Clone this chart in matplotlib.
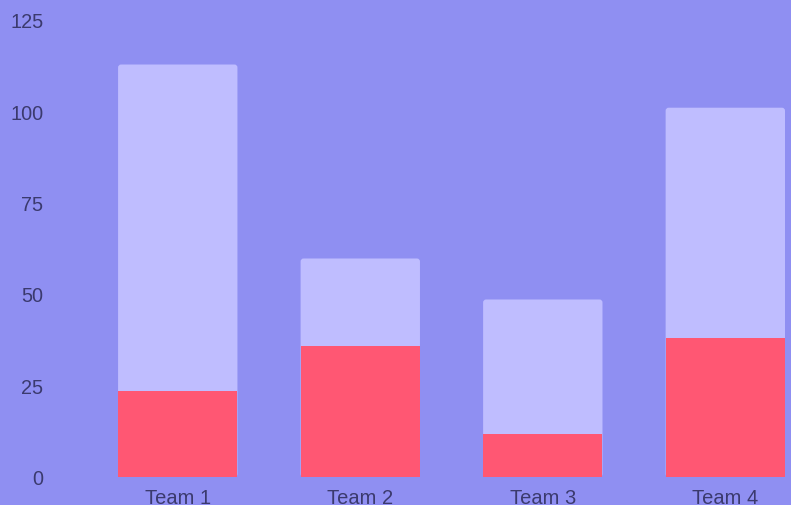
import matplotlib
matplotlib.use("Agg")
import matplotlib.pyplot as plt
from matplotlib.patches import FancyBboxPatch

teams = ["Team 1", "Team 2", "Team 3", "Team 4"]
series_a = [23.6, 35.8, 11.8, 38.0]      # red, bottom
series_b = [89.1, 23.9, 36.7, 62.9]      # light, stacked on top
yticks = [0, 25, 50, 75, 100, 125]

BG = "#8f8ff2"
RED = "#ff5773"
LIGHT = "#bfbdff"
TXT = "#3b3a6e"

plt.rcParams['font.family'] = ['Liberation Sans', 'DejaVu Sans']

W, H = 791, 506
fig = plt.figure(figsize=(W / 100, H / 100), dpi=100, facecolor=BG)
left_px, bottom_px, top_px = 86.5, 478.0, 20.5
ax = fig.add_axes([left_px / W, 1 - bottom_px / H, 1 - left_px / W, (bottom_px - top_px) / H])
ax.set_facecolor(BG)

x = list(range(len(teams)))
totals = [a + b for a, b in zip(series_a, series_b)]
width = 0.654
ax.set_xlim(-0.5, 3 + (W - 725.5) / 182)
ax.set_ylim(0, 125)

# light bars (full stacked height) with rounded tops
light = ax.bar(x, totals, width=width, color=LIGHT, zorder=2)
xr = (ax.get_xlim()[1] - ax.get_xlim()[0]) / (W - left_px)
yr = 125 / (bottom_px - top_px)
for p in light.patches:
    bx, by, bw, bh = p.get_x(), p.get_y(), p.get_width(), p.get_height()
    p.set_visible(False)
    fp = FancyBboxPatch((bx, by), bw, bh,
                        boxstyle=f"round,pad=0,rounding_size={3 * xr}",
                        mutation_aspect=yr / xr,
                        facecolor=LIGHT, edgecolor="none", linewidth=0, zorder=2)
    ax.add_patch(fp)

ax.bar(x, series_a, width=width, color=RED, linewidth=0, zorder=3)

ax.set_xticks(x)
ax.set_xticklabels(teams)
ax.set_yticks(yticks)
ax.set_yticklabels([str(v) for v in yticks])
ax.tick_params(axis='y', length=0, pad=31, labelsize=14.3, labelcolor=TXT)
ax.tick_params(axis='x', length=0, pad=8, labelsize=14.5, labelcolor=TXT)
for s in ax.spines.values():
    s.set_visible(False)

fig.savefig("out.png", dpi=100, facecolor=BG)
